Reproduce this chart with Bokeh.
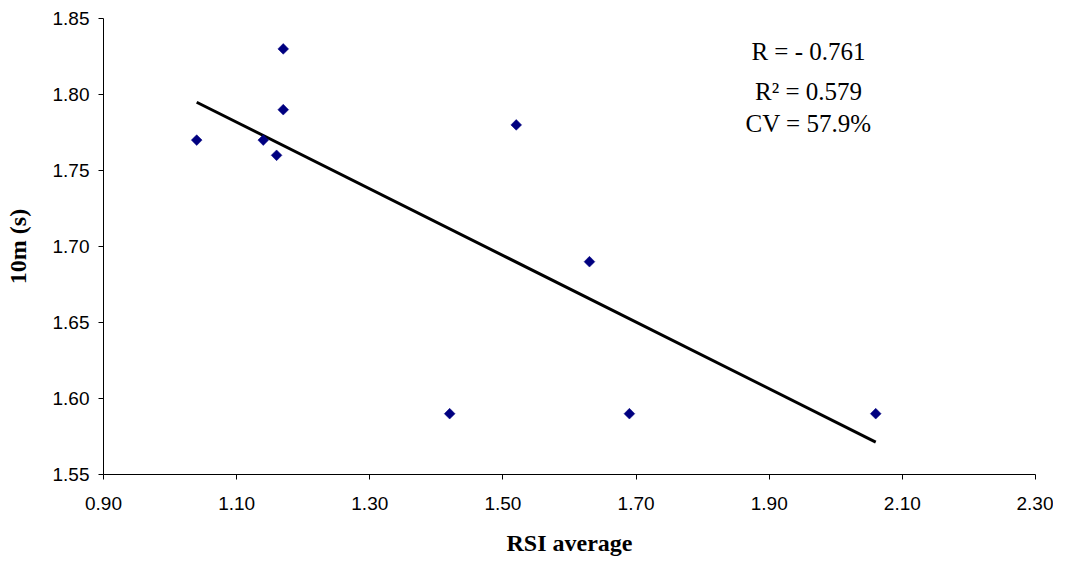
import numpy as np
from bokeh.plotting import figure
from bokeh.models import Range1d, FixedTicker, Label, ColumnDataSource
from bokeh.embed import file_html
from bokeh.resources import INLINE

# data
rsi_average = [1.04, 1.14, 1.16, 1.17, 1.17, 1.42, 1.52, 1.63, 1.69, 2.06]
ten_m = [1.77, 1.77, 1.76, 1.79, 1.83, 1.59, 1.78, 1.69, 1.59, 1.59]

x_ticks = [0.90, 1.10, 1.30, 1.50, 1.70, 1.90, 2.10, 2.30]
x_tick_labels = ["0.90", "1.10", "1.30", "1.50", "1.70", "1.90", "2.10", "2.30"]
y_ticks = [1.55, 1.60, 1.65, 1.70, 1.75, 1.80, 1.85]
y_tick_labels = ["1.55", "1.60", "1.65", "1.70", "1.75", "1.80", "1.85"]

stats_text = ["R = - 0.761", "R\u00b2 = 0.579", "CV = 57.9%"]
stats_x = [1.959, 1.959, 1.959]
stats_y = [1.8285, 1.8021, 1.7806]

x_title = "RSI average"
y_title = "10m (s)"

p = figure(width=1053, height=559, output_backend="svg", toolbar_location=None,
           x_range=Range1d(0.9, 2.3), y_range=Range1d(1.55, 1.85),
           min_border_left=103, min_border_top=18, min_border_right=18, min_border_bottom=85)

p.outline_line_color = None
p.xgrid.grid_line_color = None
p.ygrid.grid_line_color = None
p.background_fill_color = "white"
p.border_fill_color = "white"

# axes
p.xaxis.ticker = FixedTicker(ticks=x_ticks)
p.xaxis.major_label_overrides = {t: l for t, l in zip(x_ticks, x_tick_labels)}
p.yaxis.ticker = FixedTicker(ticks=y_ticks)
p.yaxis.major_label_overrides = {t: l for t, l in zip(y_ticks, y_tick_labels)}

for ax in (p.xaxis, p.yaxis):
    ax.axis_line_color = "black"
    ax.axis_line_width = 1
    ax.major_tick_line_color = "black"
    ax.major_tick_in = 0
    ax.major_tick_out = 5
    ax.minor_tick_line_color = None
    ax.major_label_text_font = "Liberation Sans"
    ax.major_label_text_font_size = "19px"
    ax.major_label_text_color = "black"
    ax.axis_label_text_font = "Liberation Serif"
    ax.axis_label_text_font_style = "bold"
    ax.axis_label_text_font_size = "24px"
    ax.axis_label_text_color = "black"

p.xaxis.axis_label = x_title
p.yaxis.axis_label = y_title
p.xaxis.major_label_standoff = 17
p.yaxis.major_label_standoff = 9
p.xaxis.axis_label_standoff = 17
p.yaxis.axis_label_standoff = 19

# trendline (least squares from data)
slope, intercept = np.polyfit(rsi_average, ten_m, 1)
tx = [min(rsi_average), max(rsi_average)]
ty = [slope * v + intercept for v in tx]
p.line(tx, ty, line_color="black", line_width=3)

# points
src = ColumnDataSource(dict(x=rsi_average, y=ten_m))
p.scatter("x", "y", source=src, marker="square", angle=np.pi / 4, size=7.6,
          fill_color="#000080", line_color="#000080", line_width=0.5)

# stats annotations
for t, xx, yy in zip(stats_text, stats_x, stats_y):
    p.add_layout(Label(x=xx, y=yy, text=t, text_align="center", text_baseline="alphabetic",
                       text_font="Liberation Serif", text_font_size="25px", text_color="black"))

open("out.html", "w").write(file_html(p, INLINE))
